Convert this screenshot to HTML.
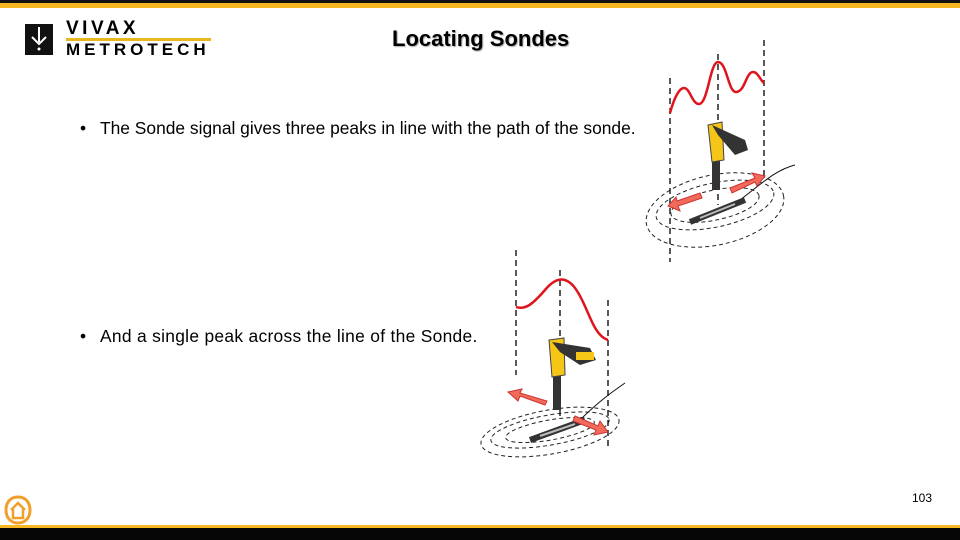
<!DOCTYPE html>
<html><head><meta charset="utf-8"><style>
body{margin:0;width:960px;height:540px;overflow:hidden;background:#fff;font-family:"Liberation Sans",Arial,sans-serif;position:relative}
.t{position:absolute;color:#000;white-space:nowrap}
</style></head><body>
<div style="position:absolute;left:0;top:0;width:960px;height:3px;background:#111"></div>
<div style="position:absolute;left:0;top:3px;width:960px;height:5px;background:#f5b824"></div>
<div style="position:absolute;left:0;top:525px;width:960px;height:3px;background:#f5b824"></div>
<div style="position:absolute;left:0;top:528px;width:960px;height:12px;background:#050505"></div>
<div style="position:absolute;left:25px;top:24px;width:28px;height:31px;background:#111"></div>
<svg style="position:absolute;left:25px;top:24px" width="28" height="31"><path d="M14 3 V18 M7 13 L14 20 L21 13" stroke="#fff" stroke-width="2" fill="none"/><circle cx="14" cy="25" r="1.5" fill="#fff"/></svg>
<div class="t" style="left:66px;top:19px;font-weight:bold;font-size:19px;letter-spacing:3.5px;line-height:20px">VIVAX</div>
<div style="position:absolute;left:66px;top:38px;width:145px;height:3px;background:#e8b61e"></div>
<div class="t" style="left:66px;top:41px;font-weight:bold;font-size:17px;letter-spacing:4px;line-height:18px">METROTECH</div>
<div class="t" style="left:392px;top:26px;font-weight:bold;font-size:22px;text-shadow:1px 1px 1px #aaa">Locating Sondes</div>
<div class="t" style="left:80px;top:118px;font-size:17.4px">•</div>
<div class="t" style="left:100px;top:118px;font-size:17.4px">The Sonde signal gives three peaks in line with the path of the sonde.</div>
<div class="t" style="left:80px;top:326px;font-size:17.4px">•</div>
<div class="t" style="left:100px;top:326px;font-size:17.4px;letter-spacing:0.3px">And a single peak across the line of the Sonde.</div>
<div class="t" style="left:912px;top:491px;font-size:12px">103</div>
<svg style="position:absolute;left:4px;top:495px" width="28" height="30"><path d="M14 2 C5 2 2 9 2 15 C2 23 7 28 14 28 C21 28 26 23 26 15 C26 9 23 2 14 2Z" fill="#fff" stroke="#f0a02a" stroke-width="3"/><path d="M7 15 L14 8 L21 15 M9 14 V23 H19 V14" stroke="#f0a02a" stroke-width="2.5" fill="none"/></svg>
<svg style="position:absolute;left:0;top:0" width="960" height="540">
<g stroke="#222" stroke-width="1.5" stroke-dasharray="6,4" fill="none">
<line x1="670" y1="78" x2="670" y2="262"/><line x1="718" y1="54" x2="718" y2="205"/><line x1="764" y1="40" x2="764" y2="178"/>
<line x1="516" y1="250" x2="516" y2="375"/><line x1="560" y1="270" x2="560" y2="420"/><line x1="608" y1="300" x2="608" y2="450"/>
</g>
<path d="M670 113 C675 95 680 88 684 88 C690 88 692 104 699 104 C708 104 710 62 718 62 C727 62 728 92 736 92 C745 92 746 72 753 72 C758 72 760 80 764 83" stroke="#e0141c" stroke-width="2.5" fill="none"/>
<path d="M516 307 C525 310 532 305 545 290 C555 278 565 275 575 288 C588 305 592 335 608 340" stroke="#e0141c" stroke-width="2.5" fill="none"/>
<g stroke="#222" stroke-width="1" stroke-dasharray="4,3" fill="none">
<ellipse cx="715" cy="205" rx="60" ry="22" transform="rotate(-12 715 205)"/>
<ellipse cx="715" cy="205" rx="45" ry="15" transform="rotate(-12 715 205)"/>
<ellipse cx="715" cy="210" rx="70" ry="35" transform="rotate(-12 715 210)"/>
<ellipse cx="550" cy="430" rx="60" ry="15" transform="rotate(-10 550 430)"/>
<ellipse cx="550" cy="430" rx="45" ry="10" transform="rotate(-10 550 430)"/>
<ellipse cx="550" cy="432" rx="70" ry="22" transform="rotate(-10 550 432)"/>
</g>
<path d="M740 200 C760 185 775 170 795 165" stroke="#111" fill="none"/>
<path d="M580 420 C600 400 615 390 625 383" stroke="#111" fill="none"/>
<line x1="690" y1="222" x2="745" y2="200" stroke="#333" stroke-width="6"/>
<line x1="700" y1="218" x2="735" y2="204" stroke="#bbb" stroke-width="2"/>
<line x1="530" y1="440" x2="585" y2="420" stroke="#333" stroke-width="6"/>
<line x1="540" y1="436" x2="575" y2="424" stroke="#bbb" stroke-width="2"/>
<g fill="#f26a5a" stroke="#c33" stroke-width="1">
<polygon points="730,188 755,178 752,173 765,176 757,186 755,182 732,193"/>
<polygon points="702,198 678,206 680,211 668,206 676,197 677,201 700,193"/>
<polygon points="545,405 520,396 518,401 508,392 522,389 520,393 547,401"/>
<polygon points="575,416 598,426 600,421 608,432 594,435 596,430 573,421"/>
</g>
<g>
<rect x="712" y="155" width="8" height="35" fill="#333"/>
<path d="M708 125 L722 122 L724 160 L712 162 Z" fill="#f5c518" stroke="#444"/>
<path d="M712 125 L745 140 L748 150 L735 155 L718 135 Z" fill="#333"/>
<rect x="553" y="370" width="8" height="40" fill="#333"/>
<path d="M549 340 L564 338 L565 375 L552 377 Z" fill="#f5c518" stroke="#444"/>
<path d="M552 342 L590 348 L596 360 L580 365 L560 352 Z" fill="#333"/>
<rect x="576" y="352" width="18" height="8" fill="#f5c518"/>
</g>
</svg>
</body></html>
